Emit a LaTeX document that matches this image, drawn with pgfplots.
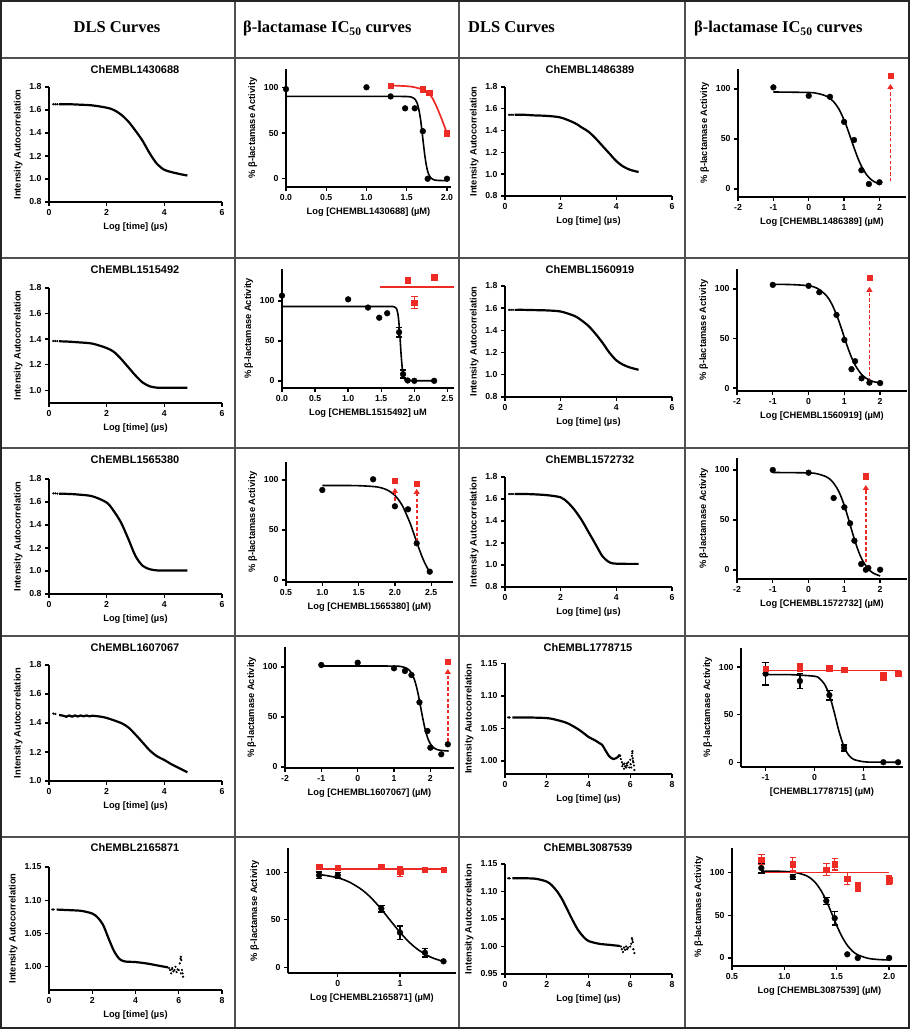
\documentclass[border=0pt]{standalone}
\usepackage{fontspec}
\setmainfont{Liberation Serif}
\newfontfamily\arial{Liberation Sans}
\usepackage{pgfplots}
\pgfplotsset{compat=1.18}
\usetikzlibrary{arrows.meta}

\definecolor{rd}{RGB}{238,42,36}
\definecolor{gridc}{RGB}{80,80,80}

\newcommand\tickfont{\arial\bfseries\fontsize{8.7}{9.5}\selectfont}
\newcommand\labfont{\arial\bfseries\fontsize{9.3}{10}\selectfont}
\newcommand\titfont{\arial\bfseries\fontsize{11}{12}\selectfont}
\newcommand\hdfont{\bfseries\fontsize{16.5}{18}\selectfont}

\pgfplotsset{
  prism/.style={scale only axis, clip=false, anchor=south west,
    axis x line*=bottom, axis y line*=left,
    axis line style={line width=1.4pt, -},
    tick align=outside, major tick length=4pt,
    major tick style={line width=1.4pt, black},
    tick label style={font=\tickfont},
    label style={font=\labfont},
    enlargelimits=false},
  dls/.style={prism, xmin=0, xmax=6, xtick={0,2,4,6}, xticklabels={0,2,4,6},
    ymin=0.8, ymax=1.8, ytick={0.8,1.0,1.2,1.4,1.6,1.8},
    yticklabels={0.8,1.0,1.2,1.4,1.6,1.8},
    xlabel={Log [time] (µs)}, ylabel={Intensity Autocorrelation}},
  dls8/.style={dls, xmax=8, xtick={0,2,4,6,8}, xticklabels={0,2,4,6,8}},
  ic/.style={prism, ytick={0,50,100}, yticklabels={0,50,100},
    ylabel={\% β-lactamase Activity}},
  fitk/.style={black, line width=1.6pt, smooth, mark=none},
  fitr/.style={rd, line width=1.7pt, mark=none},
  dlsline/.style={black, line width=2.2pt, smooth, mark=none},
  dots/.style={black, only marks, mark=*, mark size=0.9pt},
  kp/.style={black, only marks, mark=*, mark size=2.9pt},
  rp/.style={rd, only marks, mark=square*, mark size=2.7pt},
  eb/.style={error bars/y dir=both, error bars/y explicit,
    error bars/error bar style={line width=1.4pt},
    error bars/error mark options={rotate=90, mark size=3.2pt, line width=1.4pt}},
  arr/.style={rd, line width=1.7pt, dash pattern=on 3.5pt off 2.2pt,
    -{Triangle[width=6pt,length=5pt]}},
}

\begin{document}
\begin{tikzpicture}[x=1pt,y=1pt]
\useasboundingbox (0,0) rectangle (910,1029);

% table frame
\draw[line width=1.2pt, gridc] (235,0)--(235,1029) (459,0)--(459,1029) (685,0)--(685,1029);
\draw[line width=1.2pt, gridc] (0,971)--(910,971) (0,771)--(910,771) (0,581)--(910,581)
  (0,393)--(910,393) (0,192)--(910,192);
\draw[line width=2pt, black!85] (1,1) rectangle (909,1028);

% headers
\node[font=\hdfont, inner sep=0pt, anchor=base] at (117,996) {DLS Curves};
\node[font=\hdfont, inner sep=0pt, anchor=base west] at (243,996) {β-lactamase IC\textsubscript{50} curves};
\node[font=\hdfont, inner sep=0pt, anchor=base west] at (468,996) {DLS Curves};
\node[font=\hdfont, inner sep=0pt, anchor=base west] at (694,996) {β-lactamase IC\textsubscript{50} curves};

% titles
\node[font=\titfont, inner sep=0pt, anchor=base] at (135,955) {ChEMBL1430688};
\node[font=\titfont, inner sep=0pt, anchor=base] at (590,955) {ChEMBL1486389};
\node[font=\titfont, inner sep=0pt, anchor=base] at (135,755) {ChEMBL1515492};
\node[font=\titfont, inner sep=0pt, anchor=base] at (590,755) {ChEMBL1560919};
\node[font=\titfont, inner sep=0pt, anchor=base] at (135,565) {ChEMBL1565380};
\node[font=\titfont, inner sep=0pt, anchor=base] at (590,565) {ChEMBL1572732};
\node[font=\titfont, inner sep=0pt, anchor=base] at (135,377) {ChEMBL1607067};
\node[font=\titfont, inner sep=0pt, anchor=base] at (588,377) {ChEMBL1778715};
\node[font=\titfont, inner sep=0pt, anchor=base] at (135,177) {ChEMBL2165871};
\node[font=\titfont, inner sep=0pt, anchor=base] at (588,177) {ChEMBL3087539};

% ---------------- row 1
\begin{axis}[dls, at={(49pt,827pt)}, width=173pt, height=115pt]
\addplot[dlsline] coordinates {(0.35,1.65)(0.7,1.65)(1,1.647)(1.5,1.64)(2,1.62)(2.25,1.6)(2.5,1.56)(2.75,1.5)(3,1.42)(3.25,1.33)(3.5,1.22)(3.75,1.13)(4,1.08)(4.25,1.06)(4.5,1.045)(4.8,1.03)};
\addplot[dots] coordinates {(0.15,1.65)(0.22,1.65)(0.29,1.65)};
\end{axis}

\begin{axis}[ic, at={(286pt,842pt)}, width=165pt, height=118pt, xmin=0, xmax=2.05, ymin=-9, ymax=120,
  xtick={0,0.5,1,1.5,2}, xticklabels={0.0,0.5,1.0,1.5,2.0}, xlabel={Log [CHEMBL1430688] (µM)}]
\addplot[fitk] coordinates {(0,90)(1.3,90)(1.5,89.9)(1.55,89.5)(1.6,87.2)(1.63,82.5)(1.65,76)(1.67,65.9)(1.69,51.9)(1.71,36.1)(1.73,22.1)(1.75,11.9)(1.77,5.5)(1.8,0.8)(1.85,-1.5)(1.9,-1.9)(2.0,-2)};
\addplot[fitr, smooth] coordinates {(1.3,102)(1.5,101.2)(1.6,100)(1.7,97.5)(1.76,95)(1.82,88)(1.88,77)(1.94,64)(2.0,50)};
\addplot[kp] coordinates {(0,98)(1,100)(1.3,90)(1.48,77)(1.6,77)(1.7,52)(1.76,0)(2,0)};
\addplot[rp] coordinates {(1.3,102)(1.7,98)(1.78,94)(2,50)};
\end{axis}

\begin{axis}[dls, at={(505pt,833pt)}, width=167pt, height=109pt]
\addplot[dlsline] coordinates {(0.35,1.545)(0.7,1.545)(1,1.54)(1.5,1.535)(2,1.52)(2.5,1.47)(2.75,1.43)(3,1.39)(3.25,1.33)(3.5,1.26)(3.75,1.19)(4,1.12)(4.25,1.07)(4.5,1.04)(4.8,1.02)};
\addplot[dots] coordinates {(0.15,1.545)(0.22,1.545)(0.29,1.545)};
\end{axis}

\begin{axis}[ic, at={(738pt,832pt)}, width=168pt, height=128pt, xmin=-2, xmax=2.75, ymin=-8, ymax=120,
  xtick={-2,-1,0,1,2}, xticklabels={-2,-1,0,1,2}, xlabel={Log [CHEMBL1486389] (µM)}]
\addplot[fitk] coordinates {(-1,97)(0,96.5)(0.25,95.5)(0.5,92.8)(0.7,87.4)(0.85,80.1)(1.0,69)(1.1,59.7)(1.2,49.5)(1.3,39.3)(1.4,29.9)(1.5,22.1)(1.65,13.6)(1.8,8.4)(2.0,4.8)};
\addplot[kp] coordinates {(-1,101.6)(0,93.2)(0.6,92.2)(1,67.1)(1.28,49)(1.49,18.8)(1.7,5)(2,6.7)};
\addplot[arr] coordinates {(2.31,7.7)(2.31,105)};
\addplot[rp] coordinates {(2.31,113.4)};
\end{axis}

% ---------------- row 2
\begin{axis}[dls, at={(49pt,626pt)}, width=173pt, height=115pt, ymin=0.9,
  ytick={1.0,1.2,1.4,1.6,1.8}, yticklabels={1.0,1.2,1.4,1.6,1.8}]
\addplot[dlsline] coordinates {(0.35,1.383)(0.7,1.38)(1,1.375)(1.5,1.365)(2,1.33)(2.25,1.3)(2.5,1.245)(2.75,1.18)(3,1.115)(3.25,1.06)(3.5,1.03)(3.75,1.02)(4,1.02)(4.8,1.02)};
\addplot[dots] coordinates {(0.15,1.385)(0.22,1.385)(0.29,1.384)};
\end{axis}

\begin{axis}[ic, at={(282pt,641pt)}, width=172pt, height=119pt, xmin=0, xmax=2.6, ymin=-9, ymax=140,
  xtick={0,0.5,1,1.5,2,2.5}, xticklabels={0.0,0.5,1.0,1.5,2.0,2.5}, xlabel={Log [CHEMBL1515492] uM}]
\addplot[fitk] coordinates {(0,93)(1.5,93)(1.7,92.5)(1.74,88)(1.76,79)(1.78,59.5)(1.79,46.5)(1.8,33.5)(1.82,14)(1.84,4.9)(1.87,0.9)(1.9,0.2)(2.3,0)};
\addplot[fitr] coordinates {(1.48,117.5)(2.6,117.5)};
\addplot[kp] coordinates {(0,106.7)(1,102)(1.3,91.7)(1.47,79)(1.59,84.6)(1.9,0.4)(2.0,0)(2.3,0)};
\addplot[kp, eb] coordinates {(1.77,60.8) +- (0,6) (1.83,8.3) +- (0,5)};
\addplot[rp] coordinates {(1.9,126)(2.3,129.6)};
\addplot[rp, eb] coordinates {(2.0,98) +- (0,7.5)};
\end{axis}

\begin{axis}[dls, at={(505pt,632pt)}, width=167pt, height=111pt]
\addplot[dlsline] coordinates {(0.35,1.585)(0.7,1.585)(1,1.583)(1.5,1.58)(2,1.57)(2.5,1.53)(2.75,1.49)(3,1.44)(3.25,1.37)(3.5,1.29)(3.75,1.2)(4,1.13)(4.25,1.09)(4.5,1.065)(4.8,1.045)};
\addplot[dots] coordinates {(0.15,1.585)(0.22,1.585)(0.29,1.585)};
\end{axis}

\begin{axis}[ic, at={(737pt,638pt)}, width=170pt, height=122pt, xmin=-2, xmax=2.75, ymin=-3, ymax=120,
  xtick={-2,-1,0,1,2}, xticklabels={-2,-1,0,1,2}, xlabel={Log [CHEMBL1560919] (µM)}]
\addplot[fitk] coordinates {(-1,104.5)(-0.5,104.3)(0,103.1)(0.25,100.4)(0.5,93.1)(0.65,84.6)(0.8,72.1)(0.9,61.9)(1,51)(1.1,40.3)(1.2,30.9)(1.3,23.2)(1.45,15)(1.6,10)(1.8,6.6)(2,5.1)};
\addplot[kp] coordinates {(-1,104)(0,103)(0.3,96.6)(0.78,73.7)(1,48.5)(1.2,19)(1.3,27)(1.48,9.8)(1.7,5.4)(2,5)};
\addplot[arr] coordinates {(1.7,6.4)(1.7,102)};
\addplot[rp] coordinates {(1.7,111.4)};
\end{axis}

% ---------------- row 3
\begin{axis}[dls, at={(49pt,435pt)}, width=173pt, height=115pt]
\addplot[dlsline] coordinates {(0.35,1.672)(0.7,1.67)(1,1.665)(1.5,1.65)(2,1.595)(2.25,1.52)(2.5,1.42)(2.75,1.28)(3,1.13)(3.25,1.045)(3.5,1.015)(3.75,1.005)(4,1.005)(4.8,1.005)};
\addplot[dots] coordinates {(0.15,1.675)(0.22,1.675)(0.29,1.673)};
\end{axis}

\begin{axis}[ic, at={(286pt,447pt)}, width=167pt, height=120pt, xmin=0.5, xmax=2.8, ymin=-2, ymax=118,
  xtick={0.5,1,1.5,2,2.5}, xticklabels={0.5,1.0,1.5,2.0,2.5}, xlabel={Log [CHEMBL1565380] (µM)}]
\addplot[fitk] coordinates {(1.0,94.5)(1.3,94.5)(1.5,94.3)(1.7,93.5)(1.8,92.4)(1.9,89.8)(2.0,84.6)(2.1,74.7)(2.2,58.5)(2.25,48.5)(2.3,38)(2.35,27.9)(2.4,18.8)(2.48,7.4)};
\addplot[kp] coordinates {(1.0,90)(1.7,100.7)(2.0,73.7)(2.18,70.7)(2.3,36.7)(2.48,8.3)};
\addplot[arr] coordinates {(2.0,79)(2.0,92)};
\addplot[arr] coordinates {(2.3,38)(2.3,91)};
\addplot[rp] coordinates {(2.0,99.3)(2.3,96)};
\end{axis}

\begin{axis}[dls, at={(505pt,442pt)}, width=167pt, height=110pt]
\addplot[dlsline] coordinates {(0.35,1.645)(0.7,1.645)(1,1.643)(1.5,1.635)(2,1.615)(2.25,1.57)(2.5,1.5)(2.75,1.41)(3,1.3)(3.25,1.19)(3.5,1.08)(3.75,1.025)(4,1.012)(4.8,1.01)};
\addplot[dots] coordinates {(0.15,1.645)(0.22,1.645)(0.29,1.645)};
\end{axis}

\begin{axis}[ic, at={(737pt,450pt)}, width=170pt, height=121pt, xmin=-2, xmax=2.75, ymin=-9, ymax=112,
  xtick={-2,-1,0,1,2}, xticklabels={-2,-1,0,1,2}, xlabel={Log [CHEMBL1572732] (µM)}]
\addplot[fitk] coordinates {(-1,97.5)(0,97.1)(0.25,96.1)(0.5,93.1)(0.65,89)(0.8,81.5)(0.9,74)(1.0,64.3)(1.1,52.8)(1.2,40.4)(1.3,28.5)(1.4,18.2)(1.5,10)(1.65,1.7)(1.8,-3)(2.0,-6)};
\addplot[kp] coordinates {(-1,100)(0,97.3)(0.7,72)(1.0,62.7)(1.16,46.7)(1.28,29.3)(1.47,6)(1.6,0.3)(1.67,2)(2,0.3)};
\addplot[arr] coordinates {(1.6,7.6)(1.6,85)};
\addplot[rp] coordinates {(1.6,93.6)};
\end{axis}

% ---------------- row 4
\begin{axis}[dls, at={(49pt,248pt)}, width=173pt, height=116pt, ymin=1.0,
  ytick={1.0,1.2,1.4,1.6,1.8}, yticklabels={1.0,1.2,1.4,1.6,1.8}]
\addplot[dlsline] coordinates {(0.35,1.455)(0.5,1.45)(0.6,1.443)(0.7,1.452)(0.8,1.444)(0.9,1.452)(1.0,1.445)(1.1,1.452)(1.2,1.446)(1.3,1.452)(1.4,1.446)(1.5,1.45)(1.75,1.445)(2,1.435)(2.5,1.4)(2.75,1.37)(3,1.32)(3.25,1.265)(3.5,1.21)(3.75,1.17)(4,1.145)(4.25,1.115)(4.5,1.09)(4.8,1.06)};
\addplot[dots] coordinates {(0.15,1.465)(0.22,1.462)};
\end{axis}

\begin{axis}[ic, at={(285pt,261pt)}, width=169pt, height=121pt, xmin=-2, xmax=2.65, ymin=-1, ymax=120,
  xtick={-2,-1,0,1,2}, xticklabels={-2,-1,0,1,2}, xlabel={Log [CHEMBL1607067] (µM)}]
\addplot[fitk] coordinates {(-1,101)(0,101)(1,100.9)(1.2,100.4)(1.35,98.7)(1.45,95.5)(1.55,88.4)(1.62,79.9)(1.68,70)(1.74,58.5)(1.8,47)(1.86,37.1)(1.93,28.6)(2.0,23.1)(2.1,19)(2.25,16.8)(2.5,16)};
\addplot[kp] coordinates {(-1,102)(0,104.3)(1,98.7)(1.3,96)(1.48,92)(1.7,64.7)(1.92,36)(2.0,19.3)(2.3,12.7)(2.48,22.7)};
\addplot[arr] coordinates {(2.48,25)(2.48,98)};
\addplot[rp] coordinates {(2.48,105.3)};
\end{axis}

\begin{axis}[dls8, at={(505pt,255pt)}, width=167pt, height=110.5pt, ymin=0.98, ymax=1.15,
  ytick={1.00,1.05,1.10,1.15}, yticklabels={1.00,1.05,1.10,1.15}]
\addplot[dlsline] coordinates {(0.35,1.067)(1,1.067)(2,1.066)(2.5,1.063)(3,1.058)(3.5,1.049)(3.8,1.042)(4,1.037)(4.3,1.032)(4.5,1.028)(4.65,1.025)(4.8,1.017)(5,1.007)(5.2,1.003)(5.4,1.006)(5.5,1.01)};
\addplot[dots] coordinates {(0.15,1.067)(0.22,1.067)(5.55,1.003)(5.6,0.998)(5.62,0.992)(5.65,0.995)(5.7,0.988)(5.72,0.996)(5.75,0.992)(5.8,0.99)(5.83,0.996)(5.85,0.993)(5.9,0.998)(5.95,0.99)(6.0,1.002)(6.02,0.995)(6.05,0.99)(6.08,1.008)(6.1,1.012)(6.12,1.004)(6.15,0.998)(6.18,0.993)(6.2,0.986)(6.13,1.0)(5.52,1.008)(6.1,1.015)};
\end{axis}

\begin{axis}[ic, at={(741pt,262pt)}, width=162pt, height=119pt, xmin=-1.5, xmax=1.8, ymin=-5, ymax=120,
  xtick={-1,0,1}, xticklabels={-1,0,1}, xlabel={[CHEMBL1778715] (µM)}]
\addplot[fitk] coordinates {(-1,92)(-0.5,92)(0,90.3)(0.1,87.8)(0.2,82.1)(0.3,70.7)(0.4,52.3)(0.45,41.8)(0.5,31.7)(0.6,15.9)(0.7,7.1)(0.8,2.9)(1.0,0.5)(1.2,0.1)(1.7,0)};
\addplot[fitr] coordinates {(-1,96.5)(1.7,96.5)};
\addplot[kp, eb] coordinates {(-1,93) +- (0,12) (-0.3,85.3) +- (0,8) (0.3,70.5) +- (0,5) (0.6,15) +- (0,3)};
\addplot[kp] coordinates {(1.4,0)(1.7,0)};
\addplot[rp] coordinates {(-1,98)(0.3,98.6)(0.6,97.5)};
\addplot[rp, eb] coordinates {(-0.3,100) +- (0,4) (1.4,90.5) +- (0,4) (1.7,93.3) +- (0,3)};
\end{axis}

% ---------------- row 5
\begin{axis}[dls8, at={(49pt,39pt)}, width=173pt, height=123pt, ymin=0.965, ymax=1.15,
  ytick={1.00,1.05,1.10,1.15}, yticklabels={1.00,1.05,1.10,1.15}]
\addplot[dlsline] coordinates {(0.35,1.086)(1,1.085)(1.5,1.084)(2,1.08)(2.25,1.074)(2.5,1.063)(2.75,1.043)(3,1.024)(3.25,1.012)(3.5,1.008)(4,1.007)(4.5,1.005)(5,1.002)(5.5,0.999)};
\addplot[dots] coordinates {(0.15,1.086)(0.22,1.086)(5.55,0.998)(5.6,0.995)(5.65,0.99)(5.68,0.996)(5.7,0.998)(5.75,0.993)(5.8,0.995)(5.85,1.0)(5.9,0.992)(5.95,0.996)(6.0,0.995)(6.05,1.005)(6.08,1.012)(6.1,1.015)(6.12,1.01)(6.15,0.995)(6.18,0.99)(6.2,0.985)(6.1,0.99)};
\end{axis}

\begin{axis}[ic, at={(288pt,56pt)}, width=168pt, height=124.5pt, xmin=-0.8, xmax=1.9, ymin=-6, ymax=125,
  xtick={0,1}, xticklabels={0,1}, xlabel={Log [CHEMBL2165871] (µM)}]
\addplot[fitk] coordinates {(-0.3,97.8)(0,94.2)(0.2,89.2)(0.4,81)(0.55,72.1)(0.7,61.1)(0.85,48.8)(1.0,36.8)(1.15,26.3)(1.3,18.1)(1.5,10.5)(1.7,6.1)};
\addplot[fitr] coordinates {(-0.3,103.5)(1.7,103.5)};
\addplot[kp, eb] coordinates {(-0.3,96.8) +- (0,3.5) (0,96.8) +- (0,3) (0.7,61.8) +- (0,3.5) (1,36.5) +- (0,7) (1.4,15.4) +- (0,4.5)};
\addplot[kp] coordinates {(1.7,6.3)};
\addplot[rp] coordinates {(-0.3,105.6)(0,104.6)(0.7,105.6)(1.4,103)(1.7,102.5)};
\addplot[rp, eb] coordinates {(1,100.4) +- (0,5)};
\end{axis}

\begin{axis}[dls8, at={(505pt,55pt)}, width=167pt, height=110pt, ymin=0.95, ymax=1.15,
  ytick={0.95,1.00,1.05,1.10,1.15}, yticklabels={0.95,1.00,1.05,1.10,1.15}]
\addplot[dlsline] coordinates {(0.35,1.124)(1,1.124)(1.5,1.123)(2,1.118)(2.25,1.111)(2.5,1.1)(2.75,1.085)(3,1.066)(3.25,1.047)(3.5,1.03)(3.75,1.018)(4,1.01)(4.5,1.005)(5,1.003)(5.5,1.001)};
\addplot[dots] coordinates {(0.15,1.124)(0.22,1.124)(5.55,1.0)(5.6,0.995)(5.65,0.99)(5.7,0.998)(5.75,0.994)(5.8,1.0)(5.85,0.995)(5.9,0.998)(6.0,1.0)(6.05,1.005)(6.1,1.012)(6.12,1.008)(6.15,0.995)(6.2,0.988)(6.08,1.015)};
\end{axis}

\begin{axis}[ic, at={(732pt,63pt)}, width=175pt, height=118pt, xmin=0.5, xmax=2.17, ymin=-9.4, ymax=129,
  xtick={0.5,1,1.5,2}, xticklabels={0.5,1.0,1.5,2.0}, xlabel={Log [CHEMBL3087539] (µM)}]
\addplot[fitk] coordinates {(0.78,102)(0.9,101.8)(1.0,101.5)(1.1,100.4)(1.2,97)(1.25,93.5)(1.3,87.7)(1.35,79)(1.4,67.2)(1.45,52.8)(1.5,37.9)(1.55,24.9)(1.6,14.9)(1.65,8)(1.7,3.7)(1.8,-0.45)(1.9,-1.84)(2.0,-2.3)};
\addplot[fitr] coordinates {(0.78,100.4)(2.0,100.4)};
\addplot[kp, eb] coordinates {(0.78,105.5) +- (0,6) (1.08,95) +- (0,3) (1.4,67) +- (0,4) (1.48,46.7) +- (0,8)};
\addplot[kp] coordinates {(1.6,4.3)(1.7,0)(2.0,0)};
\addplot[rp, eb] coordinates {(0.78,115.3) +- (0,6) (1.08,110) +- (0,8) (1.4,103.5) +- (0,7) (1.48,110) +- (0,7) (1.6,93) +- (0,7) (1.7,83) +- (0,5) (2.0,91) +- (0,5)};
\end{axis}

\end{tikzpicture}
\end{document}
